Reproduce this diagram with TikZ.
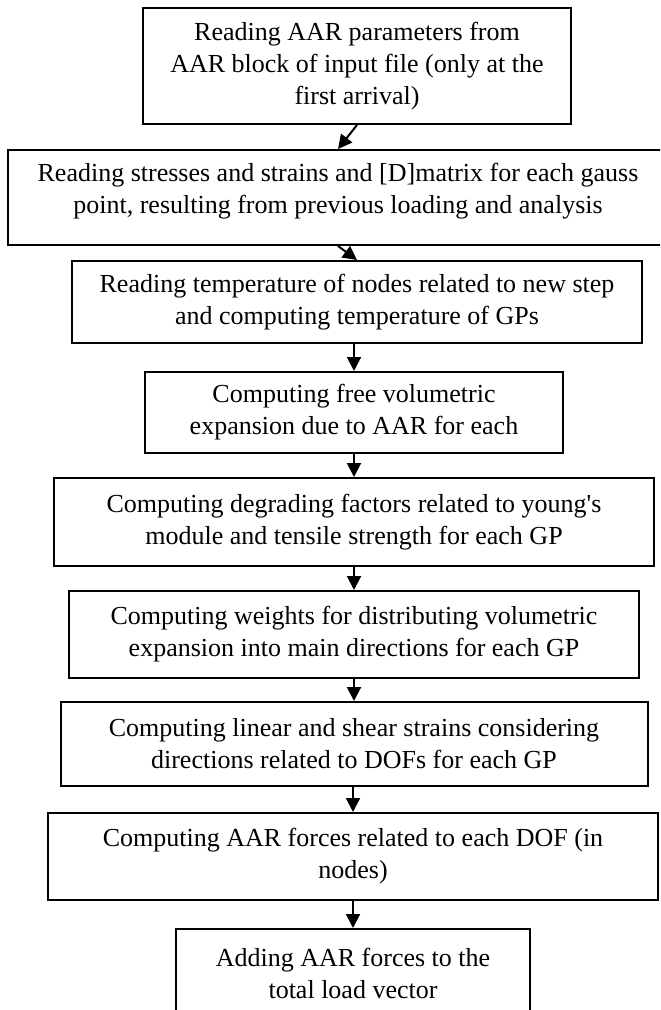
\documentclass[tikz,border=0pt]{standalone}
\usepackage{fontspec}
\setmainfont{Liberation Serif}
\usetikzlibrary{positioning,arrows.meta}
\tikzset{
  stepbox/.style={draw, line width=1pt, align=center, inner sep=0pt,
    font=\fontsize{13}{16}\selectfont},
  flow/.style={-{Triangle[length=7pt,width=7pt]}, line width=1pt}
}
\begin{document}
\begin{tikzpicture}

    \useasboundingbox (0,0) rectangle (330pt,-505pt);
    \clip (0,0) rectangle (330pt,-505pt);

    % Define nodes
    \node[stepbox, minimum width=214pt, minimum height=58pt] (read) at (178.5pt,-33pt)
      {Reading AAR parameters from\\AAR block of input file (only at the\\first arrival)};
    \node[stepbox, minimum width=330pt, minimum height=47.5pt, below=12pt of read, xshift=-9.5pt] (stress)
      {Reading stresses and strains and [D]matrix for each gauss\\point, resulting from previous loading and analysis\rule[-9.3pt]{0pt}{0pt}};
    \node[stepbox, minimum width=285pt, minimum height=41pt, below=7pt of stress, xshift=9.5pt] (temp)
      {Reading temperature of nodes related to new step\\and computing temperature of GPs};
    \node[stepbox, minimum width=209pt, minimum height=40.5pt, below=13.5pt of temp, xshift=-1.5pt] (expan)
      {Computing free volumetric\\expansion due to AAR for each};
    \node[stepbox, minimum width=300pt, minimum height=44pt, below=11.5pt of expan] (degrade)
      {Computing degrading factors related to young{\textquotesingle}s\\module and tensile strength for each GP};
    \node[stepbox, minimum width=285pt, minimum height=43.5pt, below=11.5pt of degrade] (weight)
      {Computing weights for distributing volumetric\\expansion into main directions for each GP};
    \node[stepbox, minimum width=293.5pt, minimum height=42pt, below=11pt of weight] (strain)
      {Computing linear and shear strains considering\\directions related to DOFs for each GP};
    \node[stepbox, minimum width=305pt, minimum height=43.5pt, below=12.5pt of strain, xshift=-0.5pt] (force)
      {Computing AAR forces related to each DOF (in\\nodes)};
    \node[stepbox, minimum width=177pt, minimum height=44pt, below=13.5pt of force] (load)
      {Adding AAR forces to the\\total load vector};

    % Connect the nodes
    \draw[flow] (read.south) -- (stress.north);
    \draw[flow] (stress.south) -- (temp.north);
    \foreach \a/\b in {temp/expan, expan/degrade, degrade/weight,
                       weight/strain, strain/force, force/load}
      \draw[flow] (\b.north |- \a.south) -- (\b.north);

\end{tikzpicture}
\end{document}
